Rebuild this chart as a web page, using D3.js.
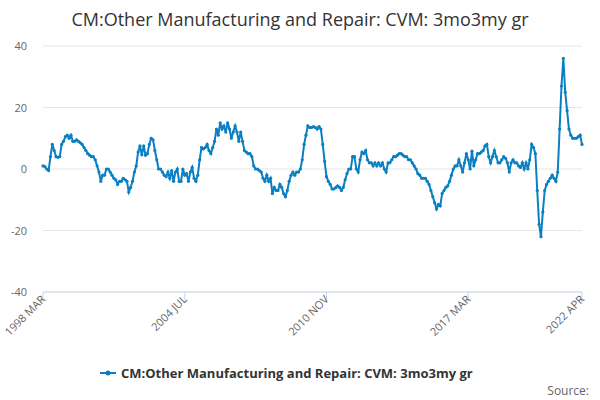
<!DOCTYPE html>
<html>
<head>
<meta charset="UTF-8">
<style>
  body { margin: 0; background: #fff; font-family: "Open Sans", "DejaVu Sans", sans-serif; }
</style>
</head>
<body>
<svg></svg>
<script src="https://d3js.org/d3.v7.min.js"></script>
<script>
const chartTitle = "CM:Other Manufacturing and Repair: CVM: 3mo3my gr";
const startYear = 1998, startMonth = 2; // March 1998
// monthly values, one row per year
const values = [].concat(
  [1, 0.8, 0, -0.5, 4, 8, 6, 4, 3.8, 4],
  [8, 9, 10.5, 11, 10, 11, 9, 9, 9.5, 9, 8.5, 8],
  [7, 6, 5, 4.5, 4, 4, 3, 1, -1, -4, -2, -2],
  [0, 0, -1, -2, -3, -3.5, -5, -4, -4, -3, -3.5, -4],
  [-7.5, -6, -4, -1, 1, 5.5, 7.5, 4.6, 7.5, 4.5, 5, 8],
  [10, 9.5, 6, 3, 0, 0, -1, -2, -2.5, -1, -3, -0.5],
  [-4, -1, 0, -4, -4, 0, -2, -1.5, -4, -1, 0.5, -3],
  [-4, -2, 3, 7, 6.5, 7, 8, 6, 5, 7, 9, 13],
  [11, 15, 13, 14, 12, 15, 13, 10, 12, 14, 12, 9],
  [12, 9, 6, 5.5, 5, 5, 4, 1, 0, 0, -0.5, -1],
  [-3, -4, -2, -4, -3, -8, -6, -7, -7, -5, -6, -8],
  [-9, -7, -4, -2, -1, -2, -1, -1, 0, 3, 8, 11],
  [14, 13.5, 13.5, 13.8, 13.5, 13, 13.8, 13, 8, 2.5, -2.5, -4],
  [-5, -6.5, -6.5, -6, -5.5, -6, -7, -6, -3.5, -1.5, 0, 0],
  [4, 4, 0, -1, 3, 5.5, 5, 6, 3, 2, 2, 1],
  [2, 1, 2, 1, 2, 0, -1, 2, 2, 3, 4, 4],
  [4.5, 5, 5, 4.5, 4, 4, 3, 3, 2, 1, 0, -1.5],
  [-2, -3, -3, -3, -4, -5, -7, -9, -11, -13, -11.5, -12],
  [-8, -7, -6, -5.5, -4, -2, 0, 1, 1, 3, 1, -1],
  [2, 5, 3, 0, 5.8, 1, 3, 5, 5, 5.5, 6, 7.5],
  [8, 4, 2, 4, 6, 4, 2, 2, 3, 4, 3.5, 2],
  [-1, 2, 3, 2, 2, 1, 0.5, 2, 0, 2, 0, 3],
  [8, 7, 5, -7, -18, -22, -14, -7, -5, -4, -3, -2],
  [-3, -4, -1, 13, 27, 36, 25, 19, 13, 11, 10, 10],
  [10, 10.5, 11, 8]
);
const tickLabels = ["1998 MAR", "2004 JUL", "2010 NOV", "2017 MAR", "2022 APR"];
const tickIndex = [0, 76, 152, 228, 289];
const yTicks = [-40, -20, 0, 20, 40];

const width = 600, height = 400;
const svg = d3.select("svg").attr("width", width).attr("height", height);

const x = d3.scaleLinear().domain([0, values.length - 1]).range([43, 582]);
const y = d3.scaleLinear().domain([-40, 40]).range([292, 46]);

svg.append("text").attr("x", width / 2).attr("y", 26).attr("text-anchor", "middle")
  .style("font-size", "18px").style("fill", "#333").text(chartTitle);

// gridlines
svg.append("g").selectAll("line").data(yTicks).enter().append("line")
  .attr("x1", 43).attr("x2", 582).attr("y1", d => y(d)).attr("y2", d => y(d))
  .style("stroke", "#e6e6e6");

svg.append("g").selectAll("text").data(yTicks).enter().append("text")
  .attr("x", 27).attr("y", d => y(d) + 4).attr("text-anchor", "end")
  .style("font-size", "11px").style("fill", "#666").text(d => d);

// x axis
svg.append("line").attr("x1", 43).attr("x2", 582).attr("y1", 292).attr("y2", 292).style("stroke", "#ccd6eb");
const xt = svg.append("g").selectAll("g").data(tickIndex).enter().append("g");
xt.append("line").attr("x1", d => x(d)).attr("x2", d => x(d)).attr("y1", 292).attr("y2", 302).style("stroke", "#ccd6eb");
xt.append("text").attr("text-anchor", "end")
  .attr("transform", d => "translate(" + (x(d) + 3) + ",300) rotate(-45)")
  .style("font-size", "11px").style("fill", "#666").text((d, i) => tickLabels[i]);

const line = d3.line().x((d, i) => x(i)).y(d => y(d));
svg.append("path").datum(values).attr("d", line)
  .style("fill", "none").style("stroke", "#0a7fc2").style("stroke-width", 2);
svg.append("g").selectAll("circle").data(values).enter().append("circle")
  .attr("cx", (d, i) => x(i)).attr("cy", d => y(d)).attr("r", 1.6).style("fill", "#0a7fc2");

// legend
svg.append("line").attr("x1", 100).attr("x2", 116).attr("y1", 373).attr("y2", 373).style("stroke", "#0a7fc2").style("stroke-width", 2);
svg.append("circle").attr("cx", 108).attr("cy", 373).attr("r", 2.5).style("fill", "#0a7fc2");
svg.append("text").attr("x", 121).attr("y", 378).style("font-size", "13px").style("font-weight", "bold")
  .style("fill", "#333").text(chartTitle);

svg.append("text").attr("x", 589).attr("y", 395).attr("text-anchor", "end")
  .style("font-size", "12px").style("fill", "#666").text("Source:");
</script>
</body>
</html>
